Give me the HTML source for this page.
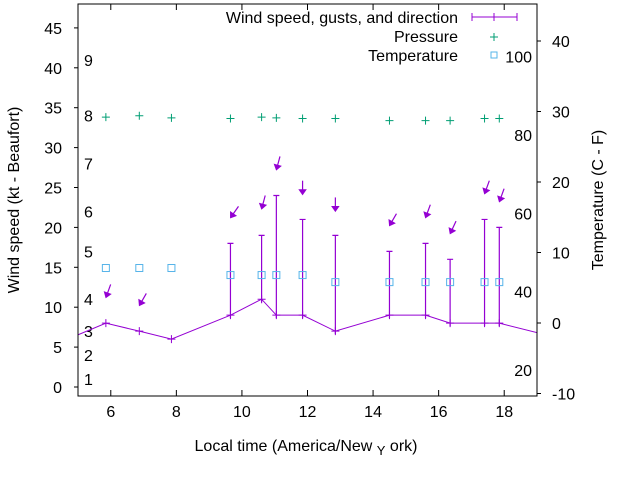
<!DOCTYPE html>
<html><head><meta charset="utf-8"><style>
body{margin:0;background:#fff}
svg{display:block;font-family:"Liberation Sans",sans-serif}
</style></head><body>
<svg id="c" width="640" height="480" viewBox="0 0 640 480"></svg>
<script>
const times=[5.85,6.87,7.85,9.65,10.6,11.05,11.85,12.85,14.5,15.6,16.35,17.4,17.85];
const windTimes=[4.8,5.85,6.87,7.85,9.65,10.6,11.05,11.85,12.85,14.5,15.6,16.35,17.4,17.85,19.3];
const windSpeed=[6.2,8,7,6,9,11,9,9,7,9,9,8,8,8,6.5];
const gustTimes=[9.65,10.6,11.05,11.85,12.85,14.5,15.6,16.35,17.4,17.85];
const gustLow=[9,11,9,9,7,9,9,8,8,8];
const gustHigh=[18,19,24,21,19,17,18,16,21,20];
const arrowY=[11.2,10.2,null,21.2,22.3,27.2,24.1,22,20.2,21.2,19.2,24.2,23.2];
const windDir=[20,30,null,35,15,15,0,0,30,20,25,20,20];
const pressure=[29.2,29.4,29.1,29.0,29.2,29.1,29.0,29.0,28.7,28.7,28.7,29.0,29.0];
const tempC=[7.8,7.8,7.8,6.8,6.8,6.8,6.8,5.8,5.8,5.8,5.8,5.8,5.8];
const leftTicks=[0,5,10,15,20,25,30,35,40,45];
const rightTicks=[-10,0,10,20,30,40];
const xTicks=[6,8,10,12,14,16,18];
const beaufort=[1,2,3,4,5,6,7,8,9];
const beaufortKt=[1,4,7,11,17,22,28,34,41];
const fLabels=[20,40,60,80,100];

const L=78,R=537,T=4,B=396;
const X=t=>L+(t-5)/14*(R-L);
const Y=v=>387-v*7.98;
const Y2=v=>323-v*7.05;
const svg=document.getElementById('c');
const NS='http://www.w3.org/2000/svg';
function mk(tag,attrs,parent){const e=document.createElementNS(NS,tag);for(const k in attrs)e.setAttribute(k,attrs[k]);(parent||svg).appendChild(e);return e;}
function txt(x,y,s,anchor,size,parent){const e=mk('text',{x:x,y:y,'text-anchor':anchor||'middle','font-size':size||16,fill:'#000'},parent);e.textContent=s;return e;}

const PU='#9400d3', GR='#009e73', BL='#56b4e9';
const defs=mk('defs',{});const cp=mk('clipPath',{id:'pc'},defs);mk('rect',{x:L,y:T,width:R-L,height:B-T},cp);

leftTicks.forEach(v=>{const g=mk('g',{});


mk('line',{x1:L-4,x2:L,y1:Y(v),y2:Y(v),stroke:'#000'},g);txt(62,Y(v)+6,String(v),'end',16,g);});
rightTicks.forEach(v=>{const g=mk('g',{});


mk('line',{x1:R,x2:R+4,y1:Y2(v),y2:Y2(v),stroke:'#000'},g);txt(552,Y2(v)+6,String(v),'start',16,g);});
xTicks.forEach(v=>{const g=mk('g',{});


mk('line',{x1:X(v),x2:X(v),y1:B,y2:B-6,stroke:'#000'},g);
mk('line',{x1:X(v),x2:X(v),y1:T,y2:T+6,stroke:'#000'},g);
txt(X(v),B+21,String(v),'middle',16,g);});
beaufort.forEach((b,i)=>{const e=txt(84,Y(beaufortKt[i])+6,String(b),'start',16);

});
fLabels.forEach(f=>{const c=(f-32)*5/9;const e=txt(532,Y2(c)+6,String(f),'end',16);

});

const plot=mk('g',{'clip-path':'url(#pc)'});


const pts=windTimes.map((t,i)=>X(t)+','+Y(windSpeed[i])).join(' ');
const wl=mk('polyline',{points:pts,fill:'none',stroke:PU,'stroke-width':1},plot);


windTimes.forEach((t,i)=>{const x=X(t),y=Y(windSpeed[i]);mk('path',{d:`M${x-4},${y}H${x+4}M${x},${y-4}V${y+4}`,stroke:PU},plot);});
gustTimes.forEach((t,i)=>{const x=X(t),y1=Y(gustLow[i])+3,y2=Y(gustHigh[i]);
const e=mk('path',{d:`M${x},${y1}V${y2}M${x-3},${y2}H${x+3}`,stroke:PU,'stroke-width':1.2,fill:'none'},plot);

});
times.forEach((t,i)=>{if(arrowY[i]==null)return;const x=X(t),y=Y(arrowY[i]);const a=windDir[i]*Math.PI/180;
const dx=-Math.sin(a),dy=Math.cos(a);const len=14,hl=5,hw=3.5;
const tx=x-dx*len,ty=y-dy*len,bx=x-dx*hl,by=y-dy*hl;
const g=mk('g',{},plot);


mk('line',{x1:tx,y1:ty,x2:bx,y2:by,stroke:PU,'stroke-width':1.2},g);
mk('polygon',{points:`${x},${y} ${bx+dy*hw},${by-dx*hw} ${bx-dy*hw},${by+dx*hw}`,fill:PU,stroke:PU,'stroke-width':0.8},g);});
times.forEach((t,i)=>{const x=X(t),y=Y2(pressure[i]);const e=mk('path',{d:`M${x-4},${y}H${x+4}M${x},${y-4}V${y+4}`,stroke:GR},plot);

});
times.forEach((t,i)=>{const x=X(t),y=Y2(tempC[i]);const e=mk('rect',{x:x-3.5,y:y-3.5,width:7,height:7,fill:'none',stroke:BL},plot);

});

const fr=mk('rect',{x:L,y:T,width:R-L,height:B-T,fill:'none',stroke:'#000'});



const lg=mk('g',{});


txt(458,23,'Wind speed, gusts, and direction','end',16,lg);
mk('path',{d:'M472,17H517M472,13V21M517,13V21M494,13V21',stroke:PU},lg);
txt(458,42,'Pressure','end',16,lg);
mk('path',{d:'M490,37H498M494,33V41',stroke:GR},lg);
txt(458,61,'Temperature','end',16,lg);
mk('rect',{x:491,y:52,width:6,height:6,fill:'none',stroke:BL},lg);

const yl=txt(0,0,'Wind speed (kt - Beaufort)','middle',16);yl.setAttribute('transform','translate(19,200) rotate(-90)');


const yr=txt(0,0,'Temperature (C - F)','middle',16);yr.setAttribute('transform','translate(603,200) rotate(-90)');


const xl=mk('text',{x:306,y:451,'text-anchor':'middle','font-size':16});


xl.innerHTML='Local time (America/New <tspan dy="4" font-size="13">Y</tspan><tspan dy="-4"> ork)</tspan>';
</script>
</body></html>
